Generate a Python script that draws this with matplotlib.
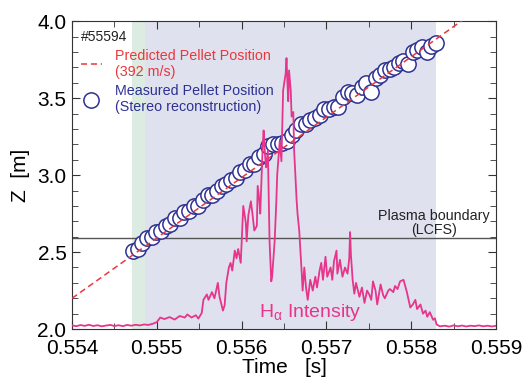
import numpy as np
import matplotlib.pyplot as plt
from matplotlib.lines import Line2D
from matplotlib.ticker import MultipleLocator

plt.rcParams['font.family'] = ['Liberation Sans', 'DejaVu Sans']
plt.rcParams['mathtext.fontset'] = 'custom'
plt.rcParams['mathtext.rm'] = 'Liberation Sans'
plt.rcParams['mathtext.it'] = 'Liberation Sans'

# shot info / bands (s)
shot = '#55594'
green_band = [0.55471, 0.55486]
blue_band = [0.55486, 0.55829]
lcfs_z = 2.59

# predicted pellet trajectory (392 m/s), end points
pred_t = [0.554, 0.559]
pred_z = [2.20, 4.16]

# measured pellet positions (stereo reconstruction)
meas_t = [0.554720, 0.554775, 0.554830, 0.554885, 0.554940, 0.554995, 0.555050,
          0.555105, 0.555160, 0.555215, 0.555270, 0.555325, 0.555380, 0.555435,
          0.555490, 0.555545, 0.555600, 0.555655, 0.555710, 0.555765, 0.555820,
          0.555875, 0.555930, 0.555985, 0.556040, 0.556095, 0.556150, 0.556205,
          0.556260, 0.556315, 0.556370, 0.556425, 0.556480, 0.556535, 0.556590,
          0.556645, 0.556700, 0.556755, 0.556810, 0.556865, 0.556920, 0.556975,
          0.557030, 0.557085, 0.557140, 0.557195, 0.557250, 0.557305, 0.557360,
          0.557415, 0.557470, 0.557525, 0.557580, 0.557635, 0.557690, 0.557745,
          0.557800, 0.557855, 0.557910, 0.557965, 0.558020, 0.558075, 0.558130,
          0.558185, 0.558240, 0.558295]
meas_z = [2.51, 2.52, 2.56, 2.59, 2.60, 2.63, 2.64, 2.67, 2.68, 2.72, 2.72,
          2.76, 2.77, 2.80, 2.80, 2.84, 2.87, 2.87, 2.90, 2.93, 2.94, 2.97,
          2.98, 3.02, 3.03, 3.07, 3.07, 3.12, 3.14, 3.19, 3.20, 3.20, 3.21,
          3.22, 3.26, 3.29, 3.33, 3.33, 3.36, 3.37, 3.39, 3.43, 3.43, 3.44,
          3.44, 3.51, 3.54, 3.53, 3.52, 3.57, 3.60, 3.54, 3.63, 3.65, 3.68,
          3.69, 3.70, 3.73, 3.74, 3.72, 3.80, 3.81, 3.83, 3.80, 3.84, 3.86]

# H-alpha intensity trace (arb. units, plotted on the Z scale)
ha_t = [0.55400, 0.55405, 0.55410, 0.55415, 0.55420, 0.55425, 0.55430, 0.55435,
        0.55440, 0.55445, 0.55450, 0.55455, 0.55460, 0.55465, 0.55470, 0.55475,
        0.55480, 0.55485, 0.55490, 0.55495, 0.55500,
        0.55504, 0.55509, 0.55515, 0.55521, 0.55527, 0.55533, 0.55536, 0.55541,
        0.55546, 0.55549, 0.55553, 0.55555, 0.55559, 0.55561, 0.55565, 0.55568,
        0.55572, 0.55574, 0.55578, 0.55580, 0.55582, 0.55585, 0.55587, 0.55589,
        0.55592, 0.55594, 0.55596, 0.55599, 0.55602, 0.55605, 0.55606, 0.55608,
        0.55611, 0.55613, 0.55615, 0.55618, 0.55619, 0.55621, 0.55622, 0.55625,
        0.55626, 0.55628, 0.55629, 0.55631, 0.55633, 0.55635, 0.55636, 0.55639,
        0.55641, 0.55642, 0.55645, 0.55647, 0.55649, 0.55652, 0.55653, 0.55654,
        0.55655, 0.55656, 0.55658, 0.55659, 0.55661, 0.55662, 0.55665, 0.55666,
        0.55668, 0.55671, 0.55672, 0.55674, 0.55676, 0.55678, 0.55681, 0.55684,
        0.55687, 0.55689, 0.55692, 0.55694, 0.55696, 0.55699, 0.55701, 0.55705,
        0.55707, 0.55709, 0.55712, 0.55713, 0.55716, 0.55719, 0.55722, 0.55725,
        0.55727, 0.55728, 0.55729, 0.55731, 0.55733, 0.55735, 0.55739, 0.55742,
        0.55745, 0.55748, 0.55751, 0.55753, 0.55755, 0.55758, 0.55760, 0.55764,
        0.55767, 0.55769, 0.55773, 0.55775, 0.55779, 0.55781, 0.55784, 0.55787,
        0.55791, 0.55793, 0.55795, 0.55799, 0.55802, 0.55805, 0.55807, 0.55811,
        0.55814, 0.55817, 0.55819, 0.55822, 0.55826, 0.55828, 0.55830, 0.55834,
        0.55840, 0.55845, 0.55850, 0.55855, 0.55860, 0.55865, 0.55870, 0.55875,
        0.55880, 0.55885, 0.55890, 0.55895, 0.55900]
ha_z = [2.024, 2.019, 2.026, 2.021, 2.028, 2.020, 2.025, 2.018,
        2.023, 2.027, 2.020, 2.025, 2.019, 2.027, 2.022, 2.028,
        2.024, 2.030, 2.027, 2.034, 2.045,
        2.075, 2.065, 2.078, 2.062, 2.085, 2.075, 2.095, 2.075,
        2.090, 2.068, 2.105, 2.19, 2.225, 2.19, 2.24, 2.20,
        2.30, 2.21, 2.12, 2.155, 2.30, 2.40, 2.43, 2.38,
        2.51, 2.46, 2.52, 2.43, 2.80, 2.69, 2.57, 2.74,
        2.83, 2.74, 2.64, 2.67, 2.93, 2.83, 2.75, 3.20,
        3.29, 3.10, 3.05, 3.16, 2.57, 2.31, 2.34, 2.57,
        2.83, 3.00, 3.22, 3.09, 3.55, 3.66, 3.76, 3.61,
        3.48, 3.68, 3.55, 3.38, 3.41, 3.16, 2.83, 2.75,
        2.64, 2.36, 2.25, 2.40, 2.27, 2.19, 2.32, 2.25,
        2.34, 2.27, 2.38, 2.43, 2.32, 2.47, 2.34, 2.40,
        2.32, 2.44, 2.51, 2.36, 2.45, 2.34, 2.40, 2.36,
        2.46, 2.63, 2.48, 2.32, 2.23, 2.30, 2.21, 2.27,
        2.17, 2.25, 2.22, 2.19, 2.31, 2.25, 2.16, 2.29,
        2.22, 2.20, 2.25, 2.26, 2.24, 2.28, 2.26, 2.31,
        2.32, 2.28, 2.24, 2.14, 2.16, 2.19, 2.13, 2.16,
        2.10, 2.12, 2.08, 2.11, 2.06, 2.07, 2.03, 2.018,
        2.022, 2.016, 2.024, 2.018, 2.023, 2.017, 2.022, 2.019,
        2.024, 2.018, 2.022, 2.017, 2.021]

red = '#e8383d'
navy = '#2e3192'
pink = '#e6358b'

fig = plt.figure(figsize=(5.22, 3.84), dpi=100)
ax = fig.add_axes([0.138, 0.143, 0.812, 0.802])

ax.axvspan(green_band[0], green_band[1], color='#dcece2', lw=0, zorder=0)
ax.axvspan(blue_band[0], blue_band[1], color='#dfe2ee', lw=0, zorder=0)
ax.axhline(lcfs_z, color='#555555', lw=1, zorder=1)

ax.plot(meas_t, meas_z, 'o', ms=11, mfc='white', mec=navy, mew=1.1,
        color=navy, zorder=2)
ax.plot(pred_t, pred_z, color=red, lw=1.1, ls=(0, (4, 2.5)), zorder=3)
ax.plot(ha_t, ha_z, color=pink, lw=1.3, zorder=4)

ax.set_xlim(0.554, 0.559)
ax.set_ylim(2.0, 4.0)
ax.xaxis.set_major_locator(MultipleLocator(0.001))
ax.xaxis.set_minor_locator(MultipleLocator(0.0005))
ax.yaxis.set_major_locator(MultipleLocator(0.5))
ax.yaxis.set_minor_locator(MultipleLocator(0.1))
ax.xaxis.set_major_formatter(plt.FormatStrFormatter('%.3f'))
ax.yaxis.set_major_formatter(plt.FormatStrFormatter('%.1f'))
ax.tick_params(which='both', direction='in', top=True, right=True,
               labelsize=15, color='#333333')
ax.tick_params(which='major', length=6)
ax.tick_params(which='minor', length=4)
ax.tick_params(axis='x', pad=7)
ax.tick_params(axis='y', pad=4)
for s in ax.spines.values():
    s.set_color('#333333')

ax.set_xlabel('Time   [s]', fontsize=15, labelpad=0)
ax.set_ylabel('Z  [m]', fontsize=15, labelpad=5)

handles = [Line2D([], [], color=red, lw=1.1, ls=(0, (4, 2.5))),
           Line2D([], [], ls='none', marker='o', ms=11, mfc='white',
                  mec=navy, mew=1.1, color=navy)]
labels = ['Predicted Pellet Position\n(392 m/s)',
          'Measured Pellet Position\n(Stereo reconstruction)']
leg = ax.legend(handles, labels, loc='upper left', frameon=False,
                title=shot, alignment='left', fontsize=10.3,
                title_fontproperties={'size': 10},
                labelcolor=[red, navy], handlelength=1.5,
                handletextpad=0.9, labelspacing=0.35,
                borderaxespad=0.3, borderpad=0.3)
leg.get_title().set_color('#222222')

ax.text(0.55893, lcfs_z + 0.005, 'Plasma boundary\n(LCFS)', fontsize=10.3,
        ha='right', va='bottom', multialignment='center', color='#222222',
        linespacing=1.0)
ax.text(0.5562, 2.08, r'H$_{\alpha}$ Intensity', fontsize=14, color=pink,
        ha='left', va='baseline')

fig.savefig('out.png', dpi=100)
